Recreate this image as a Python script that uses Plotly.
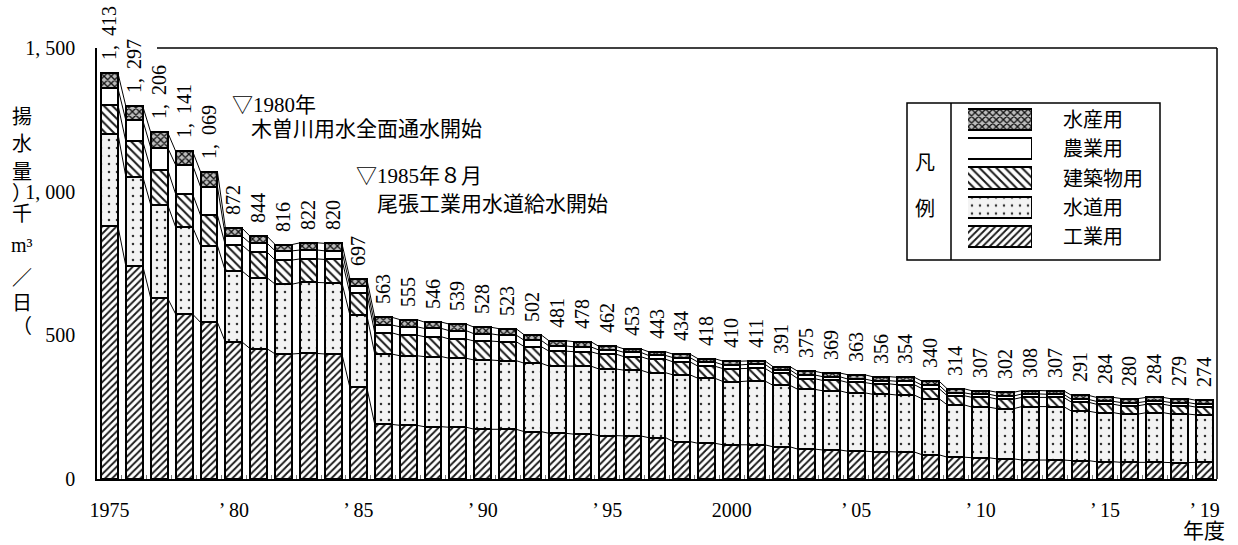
import plotly.graph_objects as go

# ---------------- data ----------------
years = list(range(1975, 2020))
industrial = [880, 741, 629, 574, 545, 476, 453, 435, 437, 435,
              319, 190, 187, 182, 180, 173, 173, 165, 159, 156,
              151, 150, 144, 130, 124, 119, 119, 112, 104, 101,
              97, 95, 94, 84, 76, 74, 70, 66, 66, 64,
              60, 58, 58, 57, 58]
water_supply = [322, 311, 325, 303, 267, 247, 247, 243, 247, 248,
                252, 245, 242, 244, 240, 241, 239, 238, 234, 237,
                232, 229, 226, 232, 226, 220, 222, 214, 208, 206,
                203, 200, 198, 195, 182, 176, 175, 186, 186, 172,
                171, 168, 173, 169, 165]
building = [100, 123, 123, 115, 106, 90, 89, 84, 82, 81,
            75, 74, 72, 69, 67, 66, 66, 58, 52, 50,
            52, 47, 47, 45, 42, 45, 44, 42, 37, 36,
            36, 36, 36, 35, 32, 34, 33, 32, 32, 31,
            29, 29, 29, 29, 27]
agriculture = [58, 73, 76, 101, 99, 31, 31, 32, 31, 30,
               26, 27, 29, 29, 29, 25, 23, 22, 18, 17,
               14, 15, 13, 15, 14, 13, 14, 12, 13, 13,
               12, 11, 12, 12, 10, 11, 11, 12, 11, 10,
               10, 11, 10, 11, 11]
fishery = [53, 49, 53, 48, 52, 28, 24, 22, 25, 26,
           25, 27, 25, 22, 23, 23, 22, 19, 18, 18,
           13, 12, 13, 12, 12, 13, 12, 11, 13, 13,
           15, 14, 14, 14, 14, 12, 13, 12, 12, 14,
           14, 14, 14, 13, 13]
totals = [1413, 1297, 1206, 1141, 1069, 872, 844, 816, 822, 820,
          697, 563, 555, 546, 539, 528, 523, 502, 481, 478,
          462, 453, 443, 434, 418, 410, 411, 391, 375, 369,
          363, 356, 354, 340, 314, 307, 302, 308, 307, 291,
          284, 280, 284, 279, 274]
series_names = ["工業用", "水道用", "建築物用", "農業用", "水産用"]
series_values = [industrial, water_supply, building, agriculture, fishery]
x_tick_years = [1975, 1980, 1985, 1990, 1995, 2000, 2005, 2010, 2015, 2019]
x_tick_text = ["1975", "’ 80", "’ 85", "’ 90", "’ 95", "2000", "’ 05", "’ 10", "’ 15", "’ 19"]
y_tick_vals = [0, 500, 1000, 1500]
y_tick_text = ["0", "500", "1, 000", "1, 500"]
y_title_chars = ["揚", "水", "量", "）", "千", "m³", "／", "日", "（"]

# ---------------- styles ----------------
FONT = "Liberation Serif, Noto Sans CJK JP"
styles = {
    "工業用": dict(shape="/", fg="#1a1a1a", bg="#ffffff", size=5, solidity=0.38),
    "水道用": dict(shape=".", fg="#333333", bg="#f3f3f3", size=8, solidity=0.08),
    "建築物用": dict(shape="\\", fg="#1a1a1a", bg="#ffffff", size=6, solidity=0.33),
    "農業用": dict(shape="", fg="#000000", bg="#ffffff", size=8, solidity=0.3),
    "水産用": dict(shape="x", fg="#111111", bg="#bdbdbd", size=5, solidity=0.45),
}
BAR_W = 0.68

L, T, W, H = 97, 48, 1120, 431
FIG_W, FIG_H = 1238, 545


def px_x(x):
    return (x - L) / W


def px_y(y):
    return (T + H - y) / H


def make_marker(name, lw):
    s = styles[name]
    return dict(
        color=s["bg"],
        line=dict(color="black", width=lw),
        pattern=dict(shape=s["shape"], fgcolor=s["fg"], bgcolor=s["bg"],
                     size=s["size"], solidity=s["solidity"], fillmode="replace"),
    )


def total_label(t):
    # leading no-break spaces lift the rotated label a little above the bar
    return "\u00a0\u00a0" + f"{t:,}".replace(",", ", \u2009")


fig = go.Figure()

# stacked bars
for i, (name, vals) in enumerate(zip(series_names, series_values)):
    kw = {}
    if i == len(series_names) - 1:
        kw = dict(
            text=[total_label(t) for t in totals],
            textposition="outside",
            textangle=-90,
            textfont=dict(family=FONT, size=20, color="black"),
            cliponaxis=False,
            constraintext="none",
        )
    fig.add_trace(go.Bar(x=years, y=vals, name=name, width=BAR_W,
                         marker=make_marker(name, 2.2), showlegend=False,
                         hoverinfo="skip", **kw))

# series lines connecting the segment tops of neighbouring bars
cum = [0] * len(years)
for vals in series_values:
    cum = [c + v for c, v in zip(cum, vals)]
    xs, ys = [], []
    for k in range(len(years) - 1):
        xs += [years[k] + BAR_W / 2, years[k + 1] - BAR_W / 2, None]
        ys += [cum[k], cum[k + 1], None]
    fig.add_trace(go.Scatter(x=xs, y=ys, mode="lines",
                             line=dict(color="black", width=1),
                             showlegend=False, hoverinfo="skip"))

# legend swatches (drawn as bars on their own little axes)
n = len(series_names)
for idx, name in enumerate(series_names):
    fig.add_trace(go.Bar(x=[1], y=[idx], orientation="h", width=0.72,
                         marker=make_marker(name, 1.5), xaxis="x2", yaxis="y2",
                         showlegend=False, hoverinfo="skip"))

annotations = []
for idx, name in enumerate(series_names):
    annotations.append(dict(x=px_x(1061), y=idx, xref="paper", yref="y2",
                            text=name, showarrow=False, xanchor="left",
                            yanchor="middle",
                            font=dict(family=FONT, size=20, color="black")))
for ch, y in (("凡", 163), ("例", 209)):
    annotations.append(dict(x=px_x(925), y=px_y(y), xref="paper", yref="paper",
                            text=ch, showarrow=False, xanchor="center",
                            yanchor="middle",
                            font=dict(family=FONT, size=20, color="black")))

# event notes
notes = [
    ("▽1980年", 230, 105),
    ("木曽川用水全面通水開始", 249, 129),
    ("▽1985年８月", 354, 176),
    ("尾張工業用水道給水開始", 375, 204),
]
for txt, x, y in notes:
    annotations.append(dict(x=px_x(x), y=px_y(y), xref="paper", yref="paper",
                            text=txt, showarrow=False, xanchor="left",
                            yanchor="middle",
                            font=dict(family=FONT, size=21, color="black")))

# vertical y-axis title
y_title_pos = [117, 144, 172, 193, 214, 245, 278, 303, 326]
for ch, y in zip(y_title_chars, y_title_pos):
    annotations.append(dict(x=px_x(22), y=px_y(y), xref="paper", yref="paper",
                            text=ch, showarrow=False, xanchor="center",
                            yanchor="middle",
                            font=dict(family=FONT, size=20, color="black")))

# x-axis unit
annotations.append(dict(x=px_x(1227), y=px_y(531), xref="paper", yref="paper",
                        text="年度", showarrow=False, xanchor="right",
                        yanchor="middle",
                        font=dict(family=FONT, size=21, color="black")))

shapes = [
    dict(type="line", xref="paper", yref="paper", x0=px_x(157), x1=1, y0=1, y1=1,
         line=dict(color="black", width=1.5)),
    dict(type="line", xref="paper", yref="paper", x0=1, x1=1, y0=0, y1=1,
         line=dict(color="black", width=1.5)),
    dict(type="rect", xref="paper", yref="paper", x0=px_x(907), x1=px_x(1160),
         y0=px_y(260), y1=px_y(103), line=dict(color="black", width=1.5)),
    dict(type="line", xref="paper", yref="paper", x0=px_x(951), x1=px_x(951),
         y0=px_y(260), y1=px_y(103), line=dict(color="black", width=1.5)),
]

fig.update_layout(
    width=FIG_W, height=FIG_H,
    margin=dict(l=L, r=FIG_W - L - W, t=T, b=FIG_H - T - H),
    barmode="stack",
    bargap=0,
    plot_bgcolor="white", paper_bgcolor="white",
    font=dict(family=FONT, size=20, color="black"),
    xaxis=dict(range=[years[0] - 0.5, years[-1] + 0.5], tickmode="array",
               tickvals=x_tick_years, ticktext=x_tick_text, ticks="",
               showgrid=False, zeroline=False, showline=True,
               linecolor="black", linewidth=1.5, ticklabelstandoff=12,
               tickfont=dict(family=FONT, size=20),
               minor=dict(tickmode="array",
                          tickvals=[y + 0.5 for y in years[:-1]],
                          ticks="inside", ticklen=4, tickcolor="#777777",
                          tickwidth=1, showgrid=False)),
    yaxis=dict(range=[0, 1500], tickmode="array", tickvals=y_tick_vals,
               ticktext=y_tick_text, ticks="", showgrid=False, zeroline=False,
               showline=True, linecolor="black", linewidth=1.5,
               ticklabelstandoff=16, tickfont=dict(family=FONT, size=20)),
    xaxis2=dict(domain=[px_x(968), px_x(1032)], range=[0, 1], anchor="y2",
                visible=False, fixedrange=True),
    yaxis2=dict(domain=[px_y(251.5), px_y(105.5)], range=[-0.5, n - 0.5],
                anchor="x2", visible=False, fixedrange=True),
    annotations=annotations,
    shapes=shapes,
)

fig.write_html("out.html", config={"displayModeBar": False},
               post_script="document.body.style.margin='0';document.body.style.padding='0';")
